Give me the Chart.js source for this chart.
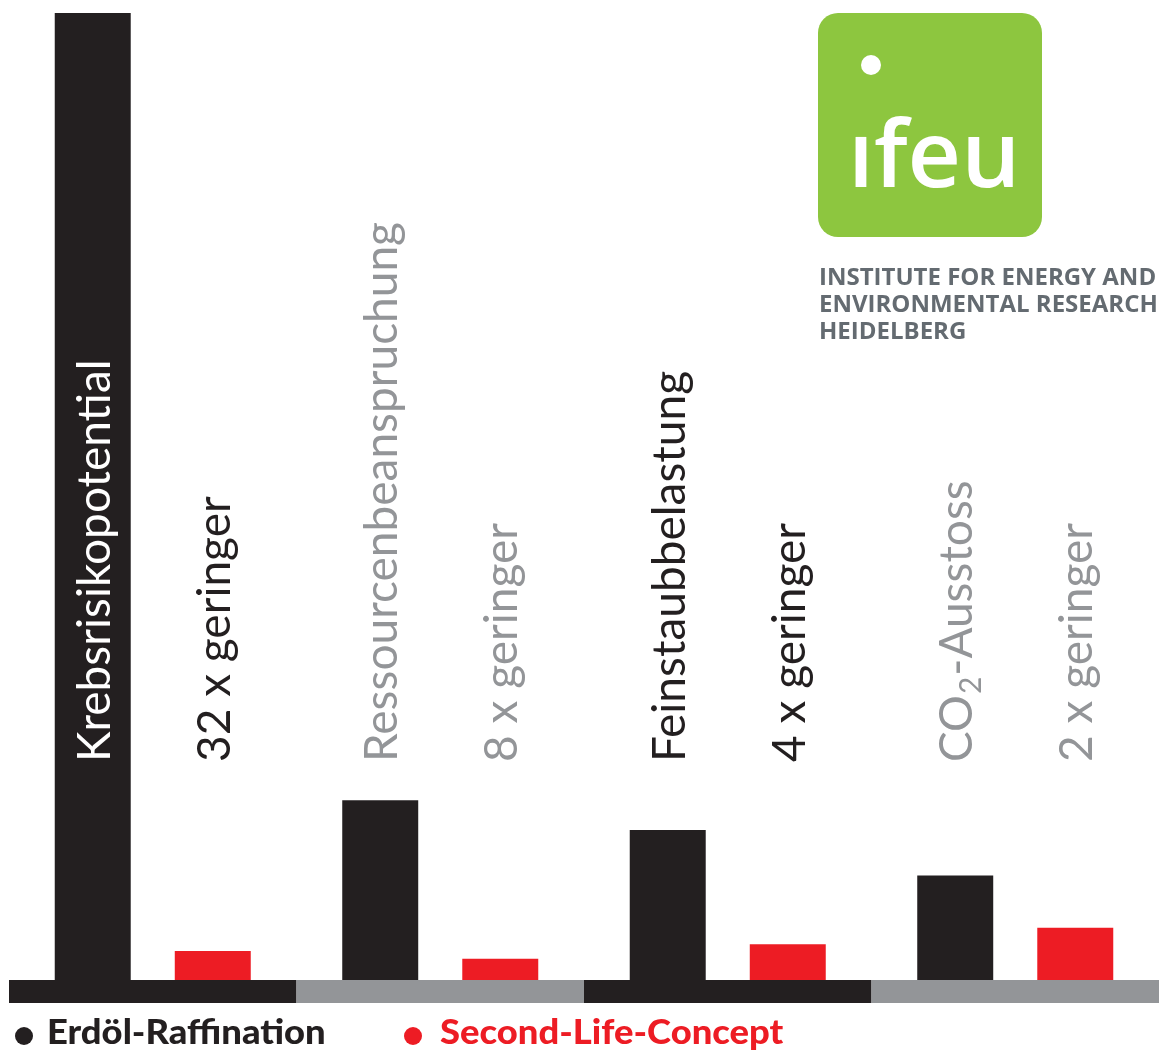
<!DOCTYPE html>
<html>
<head>
<meta charset="utf-8">
<script src="https://cdn.jsdelivr.net/npm/chart.js@4.4.1/dist/chart.umd.min.js"></script>
<style>
  html, body { margin: 0; padding: 0; background: #ffffff; }
  #wrap { width: 1161px; height: 1050px; }
</style>
</head>
<body>
<div id="wrap"><canvas id="c" width="1161" height="1050"></canvas></div>
<script>
// ---- data ----
const categories = ['Krebsrisikopotential', 'Ressourcenbeanspruchung', 'Feinstaubbelastung', 'CO2-Ausstoss'];
const reductionLabels = ['32 x geringer', '8 x geringer', '4 x geringer', '2 x geringer'];
const seriesNames = ['Erdöl-Raffination', 'Second-Life-Concept'];
const erdoelValues = [100, 18.6, 15.5, 10.8];
const secondLifeValues = [3.0, 2.2, 3.7, 5.4];
const logoLines = ['INSTITUTE FOR ENERGY AND', 'ENVIRONMENTAL RESEARCH', 'HEIDELBERG'];

// ---- styles ----
const BLACK = '#231f20';
const RED = '#ed1c24';
const GRAY = '#939598';
const GREEN = '#8dc63f';
const labelColors = ['#ffffff', GRAY, BLACK, GRAY];
const reductionColors = [BLACK, GRAY, BLACK, GRAY];
const stripColors = [BLACK, GRAY, BLACK, GRAY];
const LABEL_FONT = '400 46px Lato, "DejaVu Sans", sans-serif';

const decorPlugin = {
  id: 'decor',
  afterDatasetsDraw(chart) {
    const ctx = chart.ctx;
    const area = chart.chartArea;
    const xs = chart.scales.x;
    const n = chart.data.labels.length;
    const catW = (area.right - area.left) / n;

    // baseline strip
    for (let i = 0; i < n; i++) {
      const cx = xs.getPixelForValue(i);
      ctx.fillStyle = stripColors[i];
      ctx.fillRect(cx - catW / 2, area.bottom, catW, 23);
    }

    // rotated labels
    const textBottom = area.bottom - 218;
    const m0 = chart.getDatasetMeta(0);
    const m1 = chart.getDatasetMeta(1);
    ctx.save();
    ctx.font = LABEL_FONT;
    ctx.textBaseline = 'middle';
    ctx.textAlign = 'left';
    for (let i = 0; i < n; i++) {
      const x0 = m0.data[i].x + 2;
      ctx.save();
      ctx.translate(x0, textBottom);
      ctx.rotate(-Math.PI / 2);
      ctx.fillStyle = labelColors[i];
      const lab = chart.data.labels[i];
      if (lab === 'CO2-Ausstoss') {
        ctx.fillText('CO', 0, 0);
        let w = ctx.measureText('CO').width;
        ctx.font = '400 30px Lato, "DejaVu Sans", sans-serif';
        ctx.fillText('2', w + 1, 14);
        w += ctx.measureText('2').width + 2;
        ctx.font = LABEL_FONT;
        ctx.fillText('-Ausstoss', w, 0);
      } else {
        ctx.fillText(lab, 0, 0);
      }
      ctx.restore();
      const x1 = m1.data[i].x + 2;
      ctx.save();
      ctx.translate(x1, textBottom);
      ctx.rotate(-Math.PI / 2);
      ctx.fillStyle = reductionColors[i];
      ctx.fillText(reductionLabels[i], 0, 0);
      ctx.restore();
    }
    ctx.restore();

    // legend
    const legendX = [15, 404];
    const legendY = area.bottom + 56;
    ctx.save();
    ctx.font = '900 34px Lato, "DejaVu Sans", sans-serif';
    ctx.textBaseline = 'alphabetic';
    chart.data.datasets.forEach((ds, k) => {
      ctx.fillStyle = ds.backgroundColor;
      ctx.beginPath();
      ctx.arc(legendX[k] + 9, legendY, 9, 0, Math.PI * 2);
      ctx.fill();
      ctx.save();
      ctx.translate(legendX[k] + 32 + k * 4, legendY + 8);
      ctx.scale(1.07, 1);
      ctx.fillText(ds.label, 0, 0);
      ctx.restore();
    });
    ctx.restore();

    // logo
    ctx.save();
    ctx.fillStyle = GREEN;
    ctx.beginPath();
    ctx.roundRect(818, 13, 224, 224, 20);
    ctx.fill();
    ctx.fillStyle = '#ffffff';
    ctx.beginPath();
    ctx.arc(871, 65, 10, 0, Math.PI * 2);
    ctx.fill();
    ctx.font = '600 93px "Open Sans", sans-serif';
    ctx.textBaseline = 'alphabetic';
    ctx.fillText('\u0131feu', 848, 187);
    ctx.fillStyle = '#646b71';
    ctx.font = '700 24px "Open Sans", sans-serif';
    logoLines.forEach((t, j) => ctx.fillText(t, 819, 285 + j * 27));
    ctx.restore();
  }
};

new Chart(document.getElementById('c'), {
  type: 'bar',
  data: {
    labels: categories,
    datasets: [
      { label: seriesNames[0], data: erdoelValues, backgroundColor: BLACK },
      { label: seriesNames[1], data: secondLifeValues, backgroundColor: RED }
    ]
  },
  options: {
    responsive: false,
    animation: false,
    layout: { padding: { left: 9, right: 2, top: 13, bottom: 70 } },
    categoryPercentage: 0.835,
    barPercentage: 0.633,
    plugins: { legend: { display: false }, tooltip: { enabled: false } },
    scales: {
      x: { display: false },
      y: { display: false, min: 0, max: 100 }
    }
  },
  plugins: [decorPlugin]
});
</script>
</body>
</html>
